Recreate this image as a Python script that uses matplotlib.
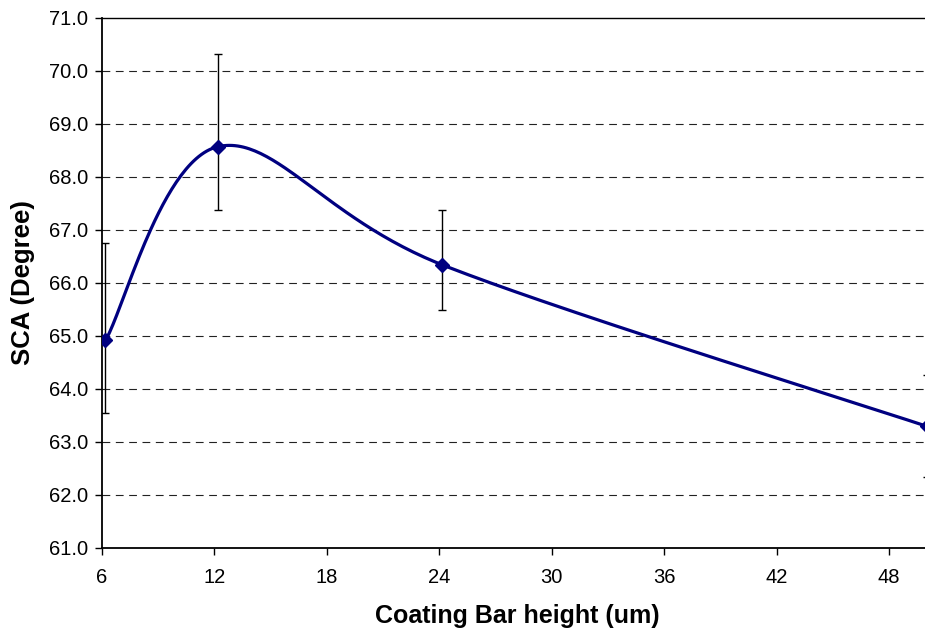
import numpy as np
import matplotlib
matplotlib.use("Agg")
import matplotlib.pyplot as plt

# Data
bar_height = [6.2, 12.2, 24.15, 50.0]
sca = [64.91, 68.57, 66.34, 63.29]
err_low = [63.54, 67.38, 65.48, 62.33]
err_high = [66.75, 70.32, 67.38, 64.25]

x_ticks = [6, 12, 18, 24, 30, 36, 42, 48]
y_ticks = [61, 62, 63, 64, 65, 66, 67, 68, 69, 70, 71]


def excel_smooth(xs, ys, n=60):
    # Bezier segments with Catmull-Rom style handles, like a spreadsheet "smoothed line"
    pts = np.column_stack([xs, ys]).astype(float)
    out = []
    for i in range(len(pts) - 1):
        p0 = pts[i - 1] if i > 0 else pts[i]
        p1 = pts[i]
        p2 = pts[i + 1]
        p3 = pts[i + 2] if i + 2 < len(pts) else pts[i + 1]
        c1 = p1 + (p2 - p0) / 6.0
        c2 = p2 - (p3 - p1) / 6.0
        t = np.linspace(0, 1, n)[:, None]
        seg = ((1 - t) ** 3) * p1 + 3 * ((1 - t) ** 2) * t * c1 + 3 * (1 - t) * t ** 2 * c2 + t ** 3 * p2
        out.append(seg if i == 0 else seg[1:])
    out = np.vstack(out)
    return out[:, 0], out[:, 1]


plt.rcParams["font.family"] = ["Liberation Sans", "DejaVu Sans"]

fig = plt.figure(figsize=(9.25, 6.31), dpi=100)
# plot area runs a little past the right edge of the picture (cropped chart)
ax = fig.add_axes([0.110, 0.1323, 0.8987, 0.8392])

# Grid
for yv in y_ticks[1:-1]:
    ax.axhline(yv, color="#222222", lw=0.8, linestyle=(0, (7, 5)), zorder=1)

# Error bars
sca_arr = np.array(sca)
yerr = [sca_arr - np.array(err_low), np.array(err_high) - sca_arr]
ax.errorbar(bar_height, sca, yerr=yerr, fmt="none", ecolor="black",
            elinewidth=1.0, capsize=2.9, capthick=1.0, zorder=2)

# Smoothed line + markers
sx, sy = excel_smooth(bar_height, sca)
ax.plot(sx, sy, color="#000080", lw=2.3, zorder=3)
ax.plot(bar_height, sca, linestyle="none", marker="D", markersize=7.5,
        color="#000080", zorder=4)

ax.set_xlim(6, 50.34)
ax.set_ylim(61, 71)
ax.set_xticks(x_ticks)
ax.set_xticklabels([str(v) for v in x_ticks])
ax.set_yticks(y_ticks)
ax.set_yticklabels([f"{v:.1f}" for v in y_ticks])

ax.tick_params(axis="both", direction="out", length=5, width=1.0,
               labelsize=14.5, colors="black")
ax.tick_params(axis="x", pad=10)
ax.tick_params(axis="y", pad=5)

ax.spines["right"].set_visible(False)
ax.spines["left"].set_linewidth(1.3)
ax.spines["bottom"].set_linewidth(1.3)
ax.spines["top"].set_linewidth(1.0)

ax.set_xlabel("Coating Bar height (um)", fontsize=18, fontweight="bold")
ax.xaxis.set_label_coords(0.5, -0.106)
ax.set_ylabel("SCA (Degree)", fontsize=18.5, fontweight="bold", labelpad=10)

fig.savefig("out.png", dpi=100)
